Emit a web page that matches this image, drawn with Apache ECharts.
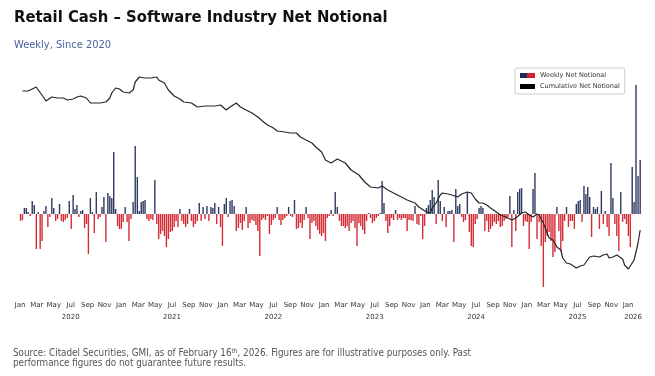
<!DOCTYPE html>
<html><head><meta charset="utf-8">
<script src="https://cdn.jsdelivr.net/npm/echarts@6/dist/echarts.min.js"></script>
<style>html,body{margin:0;padding:0;background:#fff}#c{width:655px;height:376px}</style>
</head><body><div id="c"></div>
<script>
// Weekly series starts on the first Friday of 2020
const startDate = Date.UTC(2020, 0, 3);

// Weekly net notional (arbitrary units), one value per week
const weeklyNet = [
-7,-6,6,6,2,-2,13,9,-35,2,
-35,-27,3,8,-13,-3,16,6,-7,-5,
10,-7,-8,-6,-4,13,-15,19,5,9,
-3,3,4,-14,-10,-40,16,2,-19,22,
-5,-3,7,17,-28,21,18,16,62,5,
-12,-15,-15,-8,7,-8,-27,-5,12,68,
37,3,12,13,14,-5,-7,-5,-6,34,
-10,-25,-20,-17,-22,-33,-25,-18,-17,-13,
-7,-13,5,-7,-10,-13,-10,5,-7,-13,
-10,-7,11,-7,7,-5,8,-7,7,6,
11,-10,7,-13,-32,10,16,-3,13,14,
8,-17,-14,-9,-16,-7,7,-14,-9,-6,
-7,-11,-17,-42,-6,-4,-6,-2,-20,-11,
-6,-4,7,-6,-11,-6,-4,-2,7,-2,
-3,14,-15,-14,-9,-14,-6,7,-4,-25,
-9,-7,-12,-16,-20,-22,-19,-27,-4,-2,
4,-2,22,7,-7,-12,-12,-14,-12,-17,
-9,-7,-14,-32,-9,-12,-16,-20,-7,1,
-4,-9,-7,-4,-2,1,33,11,-7,-19,
-12,-4,-6,4,-6,-4,-6,-4,-4,-17,
-6,-6,-7,8,-10,-11,-2,-25,-12,6,
9,14,24,17,-10,34,13,-7,7,-13,
3,3,4,-28,25,8,10,-3,-8,-6,
22,-18,-32,-33,-10,-5,6,8,6,-17,
-7,-18,-15,-12,-8,-10,-7,-13,-12,-7,
-5,-3,18,-33,4,-17,22,25,26,-12,
-7,-8,-35,-8,25,41,-25,-8,-32,-73,
-28,-22,-18,-27,-43,-38,7,-17,-37,-27,
-7,7,-13,-7,-7,-15,10,13,14,-8,
28,20,27,17,-23,7,5,7,-15,23,
-10,3,-13,-22,51,16,-10,-22,-37,22,
-8,-5,-10,-22,-33,47,12,129,38,54
];

// Cumulative net notional, sampled at these week numbers
const cumWeek = [1,4,6,8,9,11,13,14,16,19,22,24,27,29,31,34,36,39,41,44,46,47,49,51,53,56,58,59,61,64,67,70,71,74,76,79,82,84,88,91,95,100,103,106,108,111,113,116,119,122,125,127,130,132,136,139,142,144,147,150,152,155,157,160,163,167,170,174,177,180,184,186,189,192,196,199,203,205,209,211,212,214,216,217,220,222,225,227,230,232,234,236,238,240,242,245,247,250,253,255,258,260,262,264,266,267,269,271,272,274,276,278,279,281,283,284,286,288,290,291,293,295,296,298,300,302,303,305,307,308,310,311,313,314,316,317,318,319];
const cumNet = [123,123,125,127,124,119,113,115,117,116,116,114,115,117,118,116,111,111,111,112,116,121,126,125,122,121,124,132,137,136,136,137,134,131,124,118,115,112,111,107,108,108,109,104,107,111,107,104,101,97,92,89,86,83,82,81,81,77,74,71,67,62,54,51,55,51,44,39,32,27,26,28,24,21,17,14,11,7,2,1,6,11,19,21,20,19,17,20,22,21,15,11,11,9,6,2,-1,-3,-6,-4,1,2,-1,-3,0,-1,-9,-19,-24,-26,-33,-36,-44,-49,-50,-52,-54,-52,-51,-49,-43,-42,-41,-43,-41,-40,-44,-43,-41,-43,-45,-51,-55,-54,-46,-44,-29,-16];

const monthLabels = ['Jan','Mar','May','Jul','Sep','Nov'];
const yearLabels = ['2020','2021','2022','2023','2024','2025','2026'];

const NAVY = '#2e3960';
const RED = '#d42b34';

function weekToMonthValue(w) {
  const d = new Date(startDate + w * 7 * 86400000);
  const y = d.getUTCFullYear(), m = d.getUTCMonth(), day = d.getUTCDate();
  const dim = new Date(Date.UTC(y, m + 1, 0)).getUTCDate();
  return (y - 2020) * 12 + m + (day - 1) / dim;
}

const barData = weeklyNet.map((v, i) => ({
  value: [weekToMonthValue(i), v],
  itemStyle: { color: v >= 0 ? NAVY : RED }
}));
const lineData = cumWeek.map((w, i) => [weekToMonthValue(w), cumNet[i]]);

const FONT = 'DejaVu Sans';
const CFONT = 'DejaVu Sans Condensed, Liberation Sans';
const chart = echarts.init(document.getElementById('c'), null, { renderer: 'canvas' });
chart.setOption({
  animation: false,
  backgroundColor: '#fff',
  title: [
    { text: 'Retail Cash \u2013 Software Industry Net Notional', left: 9, top: 4,
      textStyle: { fontFamily: CFONT, fontWeight: 'bold', fontSize: 16.5, color: '#111' } },
    { text: 'Weekly, Since 2020', left: 9, top: 35,
      textStyle: { fontFamily: CFONT, fontWeight: 'normal', fontSize: 11, color: '#4a62a0' } },
    { text: 'Source: Citadel Securities, GMI, as of February 16{sup|th}, 2026. Figures are for illustrative purposes only. Past\nperformance figures do not guarantee future results.',
      left: 8, top: 343,
      textStyle: { fontFamily: CFONT, fontWeight: 'normal', fontSize: 9.8, lineHeight: 10.5, color: '#555',
        rich: { sup: { fontSize: 6.5, lineHeight: 10.5, verticalAlign: 'top', color: '#555', fontFamily: CFONT } } } }
  ],
  legend: {
    left: 515, top: 68, orient: 'vertical',
    itemWidth: 15, itemHeight: 5, itemGap: 4,
    padding: [4, 5, 4, 5],
    borderColor: '#cccccc', borderWidth: 1, borderRadius: 2,
    textStyle: { fontFamily: FONT, fontSize: 6.5, color: '#333' },
    data: [
      { name: 'Weekly Net Notional', icon: 'rect',
        itemStyle: { color: { type: 'linear', x: 0, y: 0, x2: 1, y2: 0,
          colorStops: [{ offset: 0, color: '#1f2a5a' }, { offset: 0.5, color: '#1f2a5a' }, { offset: 0.5, color: '#d0202c' }, { offset: 1, color: '#d0202c' }] } } },
      { name: 'Cumulative Net Notional', icon: 'rect', itemStyle: { color: '#000' } }
    ]
  },
  grid: { left: 20, right: 10, top: 74, height: 220 },
  xAxis: [
    { type: 'value', min: 0, max: 74, interval: 2,
      axisLine: { show: false }, axisTick: { show: false }, splitLine: { show: false },
      axisLabel: { fontFamily: FONT, fontSize: 7, color: '#333', margin: 8, showMaxLabel: true, showMinLabel: true,
        formatter: v => (v <= 72 ? monthLabels[Math.round(v / 2) % 6] : '') } },
    { type: 'value', min: 0, max: 74, interval: 6, position: 'bottom', offset: 12,
      axisLine: { show: false }, axisTick: { show: false }, splitLine: { show: false },
      axisLabel: { fontFamily: FONT, fontSize: 7, color: '#333', margin: 8,
        formatter: v => (v === 72 ? '{r|' + yearLabels[6] + '}' : (v % 12 === 6 ? yearLabels[(v - 6) / 12] : '')),
        rich: { r: { fontFamily: FONT, fontSize: 7, color: '#333', padding: [0, 0, 0, 10] } } } }
  ],
  yAxis: { type: 'value', min: -80, max: 140, show: false, splitLine: { show: false } },
  series: [
    { name: 'Weekly Net Notional', type: 'bar', xAxisIndex: 0, barWidth: 1.4, data: barData },
    { name: 'Cumulative Net Notional', type: 'line', xAxisIndex: 0, symbol: 'none', data: lineData,
      lineStyle: { color: '#262626', width: 1.2 }, itemStyle: { color: '#000' } }
  ]
});
</script></body></html>
